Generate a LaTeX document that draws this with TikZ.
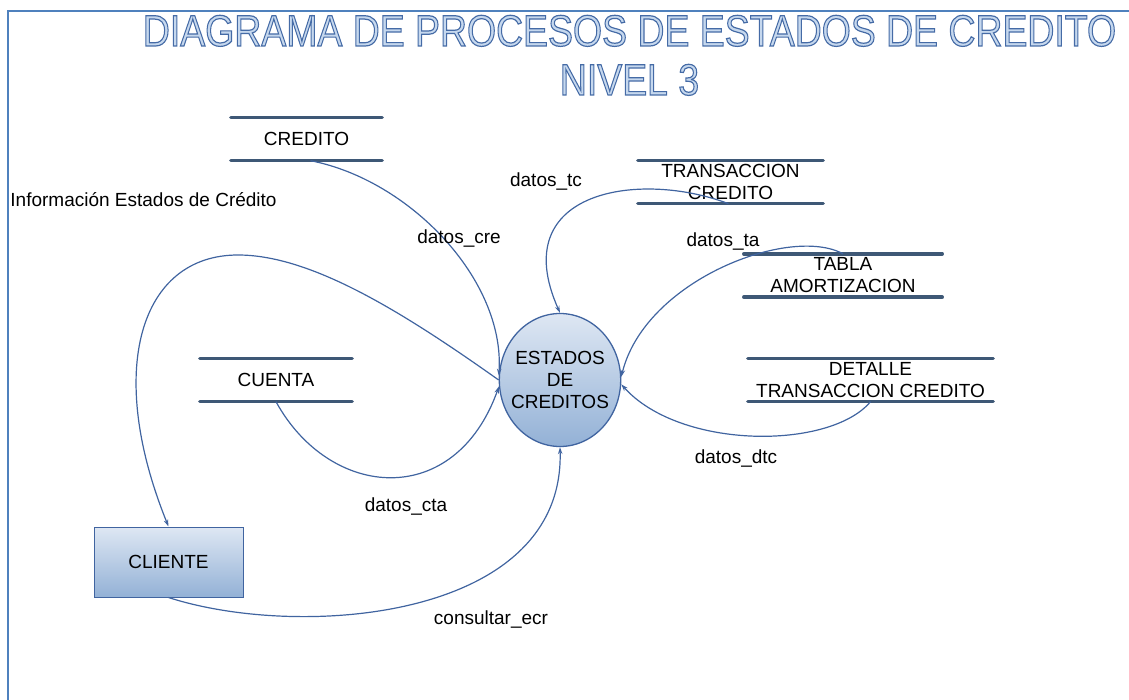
\documentclass[tikz,border=0pt]{standalone}
\usepackage{fontspec}
\setmainfont{Liberation Sans}
\usepackage{tikz}
\usepackage{xcolor}
\usetikzlibrary{positioning,shapes,arrows.meta}

\definecolor{bordeazul}{RGB}{79,129,189}
\definecolor{flujoazul}{RGB}{64,100,160}
\definecolor{almacenazul}{RGB}{62,88,118}
\definecolor{rellenoA}{RGB}{222,231,243}
\definecolor{rellenoB}{RGB}{147,177,214}
\definecolor{titulorelleno}{RGB}{198,216,238}

\newcommand{\trazo}[1]{\special{pdf:literal direct 2 Tr 1.2 w 0.27 0.42 0.65 RG}#1\special{pdf:literal direct 0 Tr}}

\begin{document}
\begin{tikzpicture}[x=1pt,y=1pt]
\tikzstyle{every node}+=[inner sep=0pt]
\tikzstyle{almacen}=[minimum height=43pt, align=center, font=\fontsize{19}{22}\selectfont]
\tikzstyle{lineaalm}=[draw=almacenazul, line width=3.5pt, line cap=round]
\tikzstyle{flujo}=[draw=flujoazul, line width=1.2pt, -{Stealth[length=7pt,width=4.5pt]}]
\tikzstyle{etiqueta}=[font=\fontsize{19}{22}\selectfont]
\tikzstyle{titulo}=[anchor=base, text=titulorelleno, font=\fontsize{44}{49}\selectfont]
\useasboundingbox (0,0) rectangle (1129,-700);
\draw [bordeazul, line width=2.5pt] (8,-700) -- (8,-11) -- (1129,-11);
\node [titulo] (tit1) at (629.5,-46) {\scalebox{0.85}[1]{\trazo{DIAGRAMA DE PROCESOS DE ESTADOS DE CREDITO}}};
\node [titulo] (tit2) at (629.5,-95) {\scalebox{0.85}[1]{\trazo{NIVEL 3}}};
\node [almacen, minimum width=151pt] (cre) at (306.5,-139) {CREDITO};
\node [almacen, minimum width=152pt] (cta) at (276,-380) {CUENTA};
\node [almacen, minimum width=185pt] (tc) at (730.5,-182) {TRANSACCION\\CREDITO};
\node [almacen, minimum width=198pt] (ta) at (843,-275.5) {TABLA\\AMORTIZACION};
\node [almacen, minimum width=245pt] (dtc) at (870.5,-380) {DETALLE\\TRANSACCION CREDITO};
\foreach \n in {cre,cta,tc,ta,dtc} {
  \draw [lineaalm] (\n.north west) -- (\n.north east);
  \draw [lineaalm] (\n.south west) -- (\n.south east);
}
\node [ellipse, draw=flujoazul, line width=1.3pt, top color=rellenoA, bottom color=rellenoB, inner xsep=-6pt, minimum width=120pt, minimum height=133pt, align=center, font=\fontsize{19}{22}\selectfont] (est) at (560,-380) {ESTADOS\\DE\\CREDITOS};
\node [draw=flujoazul, line width=1pt, top color=rellenoA, bottom color=rellenoB, minimum width=149pt, minimum height=70pt, font=\fontsize{19}{22}\selectfont] (cli) at (168.5,-562) {CLIENTE};
\draw [flujo] ([xshift=4pt]cre.south) .. controls (410,-180) and (505,-280) .. (est.176);
\draw [flujo] (est.180) .. controls (400,-310) and (310,-255) .. (238,-255) .. controls (140,-255) and (105,-370) .. (cli.north);
\draw [flujo] (cta.south) .. controls (330,-500) and (455,-510) .. (est.186);
\draw [flujo] (cli.south) .. controls (300,-640) and (565,-620) .. (est.south);
\draw [flujo] ([xshift=-2pt]tc.south) .. controls (640,-170) and (505,-190) .. (est.north);
\draw [flujo] (ta.north) .. controls (790,-225) and (645,-280) .. (est.3);
\draw [flujo] (dtc.south) .. controls (830,-450) and (680,-450) .. (est.-4);
\node [etiqueta] (linfo) at (143.5,-200) {Información Estados de Crédito};
\node [etiqueta] (lcre) at (459,-239) {datos\_cre};
\node [etiqueta] (ltc) at (546,-182) {datos\_tc};
\node [etiqueta] (lta) at (723,-242) {datos\_ta};
\node [etiqueta] (ldtc) at (736,-459) {datos\_dtc};
\node [etiqueta] (lcta) at (406,-507) {datos\_cta};
\node [etiqueta] (lecr) at (491,-619) {consultar\_ecr};
\end{tikzpicture}
\end{document}
